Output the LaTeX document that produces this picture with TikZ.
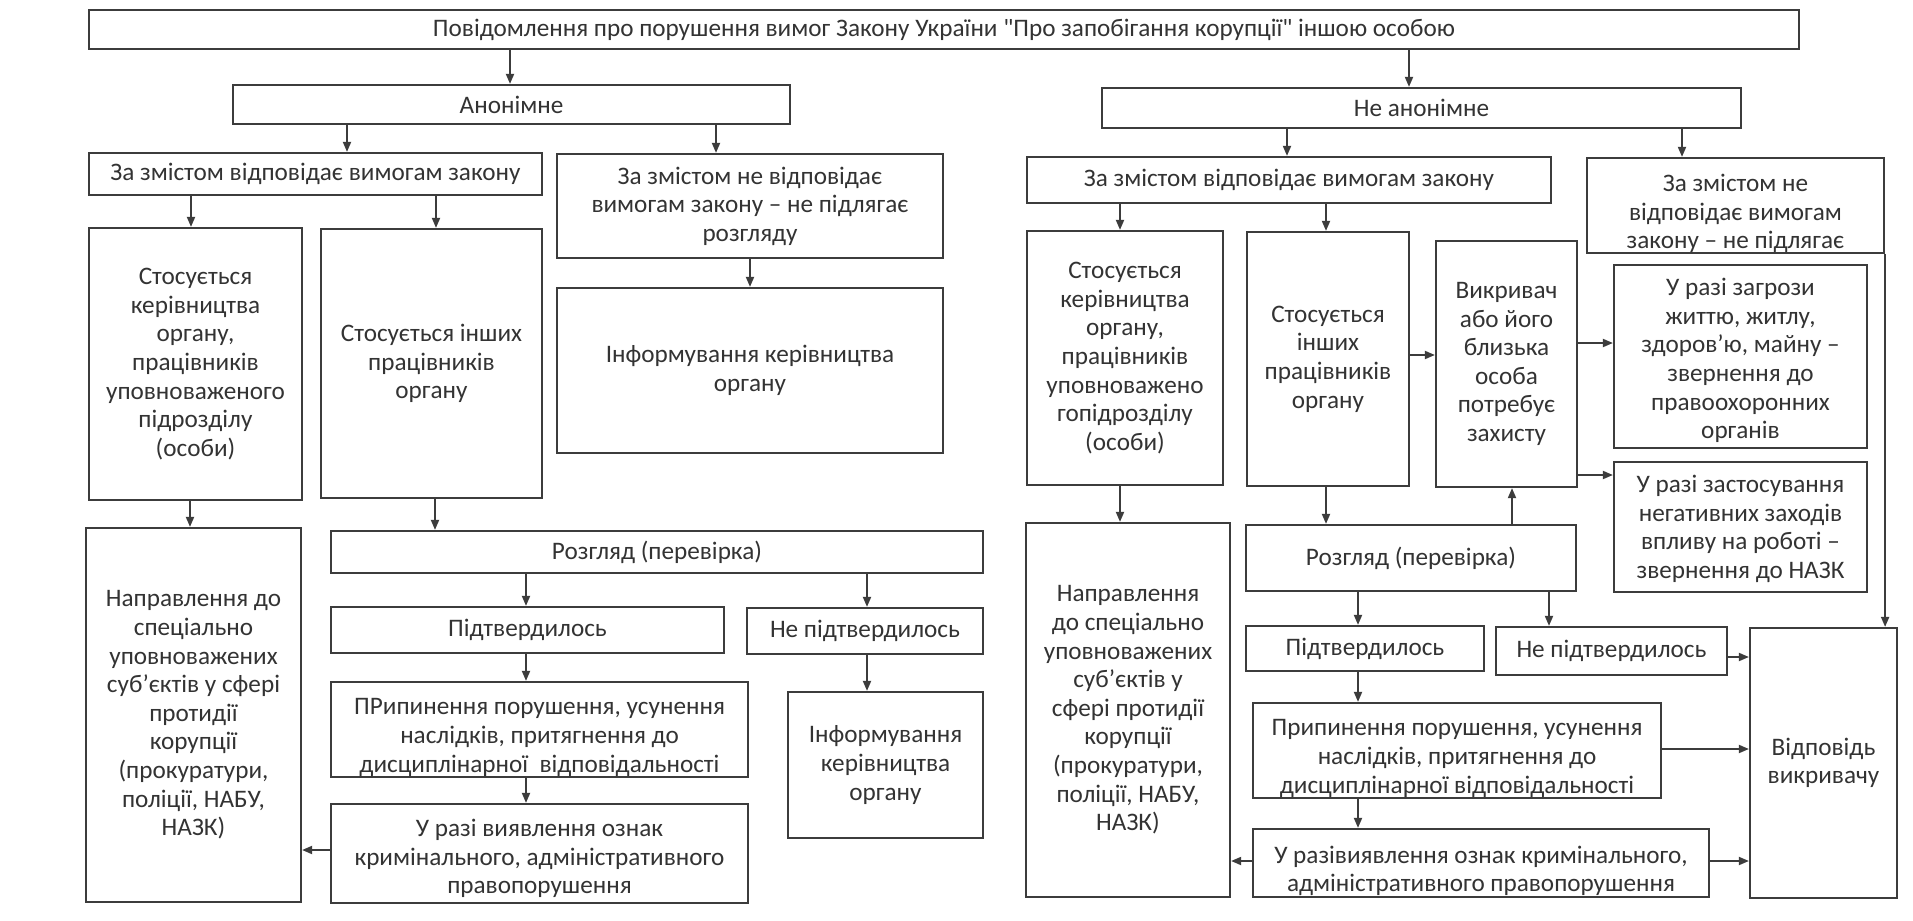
\documentclass[tikz,border=0pt]{standalone}
\usepackage{fontspec}
\setmainfont{Carlito}[Ligatures=TeXOff]
\usetikzlibrary{arrows.meta}
\definecolor{ink}{HTML}{3C3C3C}
\definecolor{txt}{HTML}{333333}
\tikzset{
 box/.style={draw=ink, line width=1.1pt, inner sep=0pt, fill=white},
 lbl/.style={text=txt, align=center, font=\fontsize{12.6}{14.3}\selectfont, inner sep=0pt},
 arr/.style={draw=ink, line width=0.9pt, -{Triangle[length=5pt,width=4pt]}},
}
\newcommand{\bx}[7]{%
 \pgfmathsetmacro{\bxcx}{(#2+#4)/2}%
 \pgfmathsetmacro{\bxcy}{(#3+#5)/2}%
 \pgfmathsetmacro{\bxw}{(#4-#2)*0.5}%
 \pgfmathsetmacro{\bxh}{(#5-#3)*0.5}%
 \pgfmathsetmacro{\bxty}{\bxcy+#6}%
 \node[box, minimum width=\bxw pt, minimum height=\bxh pt] (#1) at (\bxcx,\bxcy) {};%
 \node[lbl] (#1t) at (\bxcx,\bxty) {#7};}
\begin{document}
\begin{tikzpicture}[x=0.5pt,y=-0.5pt]
\useasboundingbox[fill=white] (0,0) rectangle (1913,921);
% top
\bx{top}{89}{10}{1799}{49}{0}{Повідомлення про порушення вимог Закону України "Про запобігання корупції" іншою особою}
\bx{anon}{233}{85}{790}{124}{0}{Анонімне}
\bx{nanon}{1102}{88}{1741}{128}{0}{Не анонімне}
% left half
\bx{la1}{89}{153}{542}{195}{0}{За змістом відповідає вимогам закону}
\bx{la2}{557}{154}{943}{258}{0}{За змістом не відповідає\\вимогам закону – не підлягає\\розгляду}
\bx{linf}{557}{288}{943}{453}{0}{Інформування керівництва\\органу}
\bx{lka}{89}{228}{302}{500}{0}{Стосується\\керівництва\\органу,\\працівників\\уповноваженого\\підрозділу\\(особи)}
\bx{lkb}{321}{229}{542}{498}{0}{Стосується інших\\працівників\\органу}
\bx{lnap}{86}{528}{301}{902}{0}{Направлення до\\спеціально\\уповноважених\\суб’єктів у сфері\\протидії\\корупції\\(прокуратури,\\поліції, НАБУ,\\НАЗК)}
\bx{lroz}{331}{531}{983}{573}{0}{Розгляд (перевірка)}
\bx{lpt}{331}{607}{724}{653}{0}{Підтвердилось}
\bx{lnpt}{747}{608}{983}{654}{0}{Не підтвердилось}
\bx{lpr}{331}{682}{748}{777}{8}{ПРипинення порушення, усунення\\наслідків, притягнення до\\дисциплінарної\ \ відповідальності}
\bx{lur}{331}{804}{748}{903}{5}{У разі виявлення ознак\\кримінального, адміністративного\\правопорушення}
\bx{linf2}{788}{692}{983}{838}{0}{Інформування\\керівництва\\органу}
% right half
\bx{ra1}{1027}{157}{1551}{203}{0}{За змістом відповідає вимогам закону}
\bx{ra2}{1587}{158}{1884}{253}{8}{За змістом не\\відповідає вимогам\\закону – не підлягає}
\bx{rka}{1027}{231}{1223}{485}{0}{Стосується\\керівництва\\органу,\\працівників\\уповноважено\\гопідрозділу\\(особи)}
\bx{rkb}{1247}{232}{1409}{486}{0}{Стосується\\інших\\працівників\\органу}
\bx{rvk}{1436}{241}{1577}{487}{0}{Викривач\\або його\\близька\\особа\\потребує\\захисту}
\bx{rzag}{1614}{265}{1867}{448}{4}{У разі загрози\\життю, житлу,\\здоров’ю, майну –\\звернення до\\правоохоронних\\органів}
\bx{rneg}{1614}{462}{1867}{592}{2}{У разі застосування\\негативних заходів\\впливу на роботі –\\звернення до НАЗК}
\bx{rnap}{1026}{523}{1230}{897}{0}{Направлення\\до спеціально\\уповноважених\\суб’єктів у\\сфері протидії\\корупції\\(прокуратури,\\поліції, НАБУ,\\НАЗК)}
\bx{rroz}{1246}{525}{1576}{591}{0}{Розгляд (перевірка)}
\bx{rpt}{1246}{626}{1484}{671}{0}{Підтвердилось}
\bx{rnpt}{1496}{627}{1727}{675}{0}{Не підтвердилось}
\bx{rpr}{1253}{703}{1661}{798}{8}{Припинення порушення, усунення\\наслідків, притягнення до\\дисциплінарної відповідальності}
\bx{rur}{1253}{829}{1709}{897}{8}{У разівиявлення ознак кримінального,\\адміністративного правопорушення}
\bx{vidp}{1750}{628}{1897}{898}{0}{Відповідь\\викривачу}
% arrows top
\draw[arr] (top.south -| 510,0) -- (anon.north -| 510,0);
\draw[arr] (top.south -| 1409,0) -- (nanon.north -| 1409,0);
% arrows left
\draw[arr] (anon.south -| 347,0) -- (la1.north -| 347,0);
\draw[arr] (anon.south -| 716,0) -- (la2.north -| 716,0);
\draw[arr] (la2.south -| 750,0) -- (linf.north -| 750,0);
\draw[arr] (la1.south -| 191,0) -- (lka.north -| 191,0);
\draw[arr] (la1.south -| 436,0) -- (lkb.north -| 436,0);
\draw[arr] (lka.south -| 190,0) -- (lnap.north -| 190,0);
\draw[arr] (lkb.south -| 435,0) -- (lroz.north -| 435,0);
\draw[arr] (lroz.south -| 526,0) -- (lpt.north -| 526,0);
\draw[arr] (lroz.south -| 867,0) -- (lnpt.north -| 867,0);
\draw[arr] (lpt.south -| 526,0) -- (lpr.north -| 526,0);
\draw[arr] (lpr.south -| 526,0) -- (lur.north -| 526,0);
\draw[arr] (lnpt.south -| 867,0) -- (linf2.north -| 867,0);
\draw[arr] (lur.west |- 0,850) -- (lnap.east |- 0,850);
% arrows right
\draw[arr] (nanon.south -| 1287,0) -- (ra1.north -| 1287,0);
\draw[arr] (nanon.south -| 1682,0) -- (ra2.north -| 1682,0);
\draw[arr] (ra1.south -| 1120,0) -- (rka.north -| 1120,0);
\draw[arr] (ra1.south -| 1326,0) -- (rkb.north -| 1326,0);
\draw[arr] (rka.south -| 1120,0) -- (rnap.north -| 1120,0);
\draw[arr] (rkb.south -| 1326,0) -- (rroz.north -| 1326,0);
\draw[arr] (rkb.east |- 0,355) -- (rvk.west |- 0,355);
\draw[arr] (rvk.east |- 0,343) -- (rzag.west |- 0,343);
\draw[arr] (rvk.east |- 0,475) -- (rneg.west |- 0,475);
\draw[arr] (rroz.north -| 1512,0) -- (rvk.south -| 1512,0);
\draw[arr] (rroz.south -| 1358,0) -- (rpt.north -| 1358,0);
\draw[arr] (rroz.south -| 1549,0) -- (rnpt.north -| 1549,0);
\draw[arr] (rpt.south -| 1358,0) -- (rpr.north -| 1358,0);
\draw[arr] (rpr.south -| 1358,0) -- (rur.north -| 1358,0);
\draw[arr] (rnpt.east |- 0,657) -- (vidp.west |- 0,657);
\draw[arr] (rpr.east |- 0,749) -- (vidp.west |- 0,749);
\draw[arr] (rur.east |- 0,861) -- (vidp.west |- 0,861);
\draw[arr] (rur.west |- 0,861) -- (rnap.east |- 0,861);
\draw[arr] (ra2.south east) -- (vidp.north -| ra2.south east);
\end{tikzpicture}
\end{document}
